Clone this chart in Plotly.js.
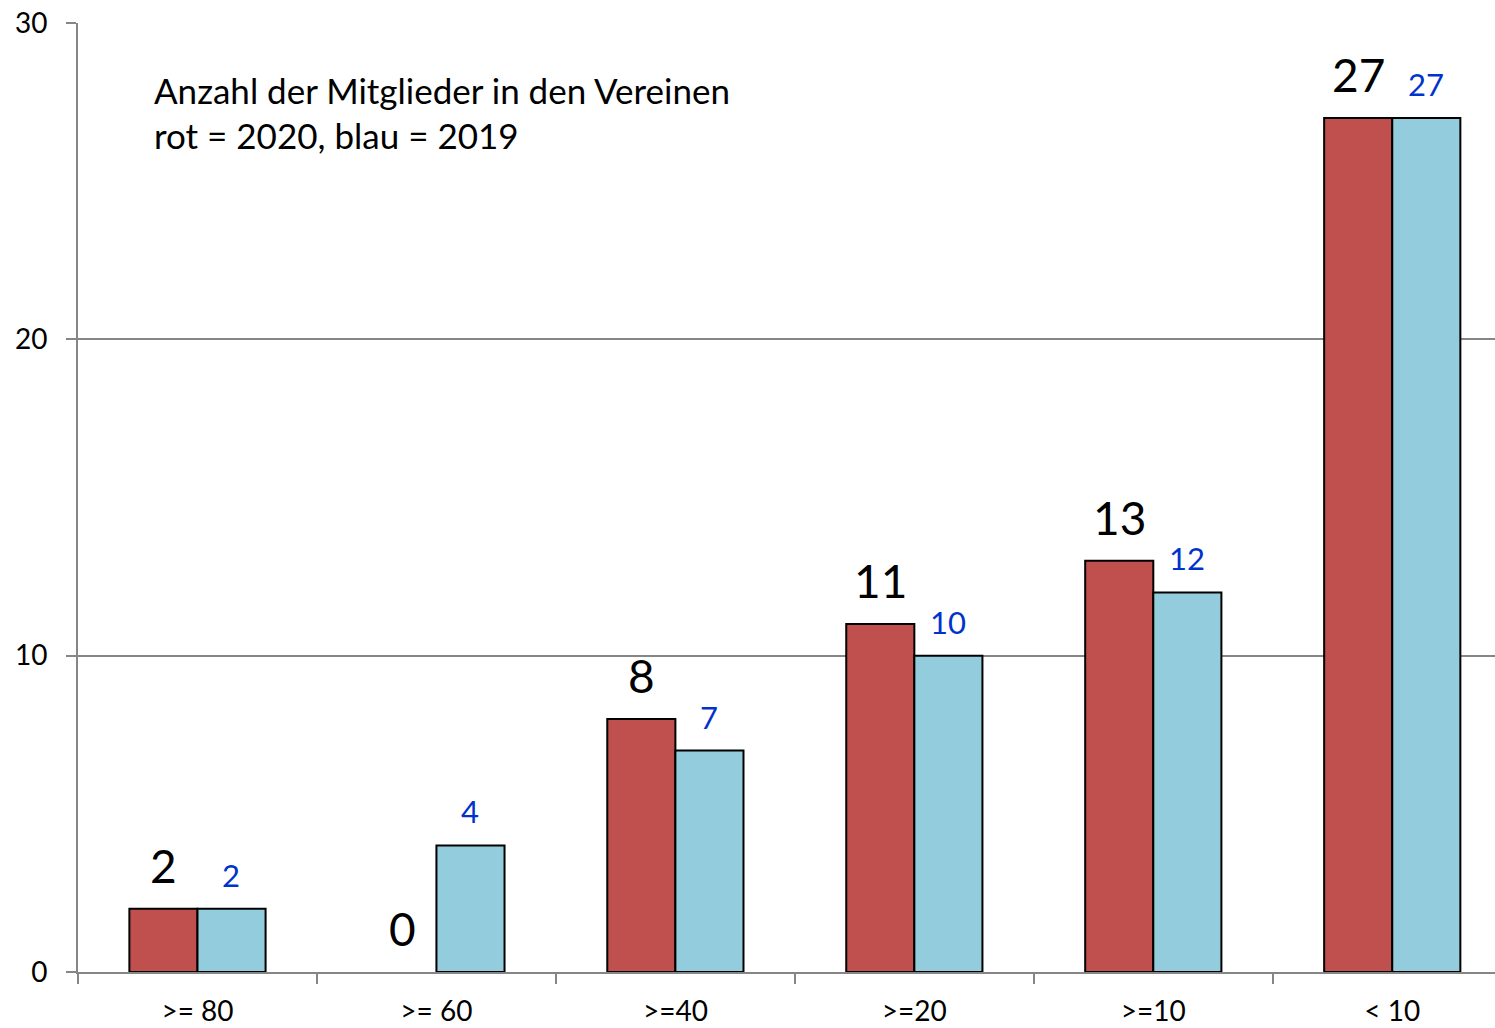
<!DOCTYPE html>
<html><head><meta charset="utf-8">
<script src="https://cdn.plot.ly/plotly-3.0.1.min.js"></script>
<style>html,body{margin:0;padding:0;background:#fff;}#chart{width:1495px;height:1028px;}</style>
</head><body><div id="chart"></div>
<script>
const categories = [">= 80", ">= 60", ">=40", ">=20", ">=10", "< 10"];
const values2020 = [2, 0, 8, 11, 13, 27];
const values2019 = [2, 4, 7, 10, 12, 27];
const yTicks = [0, 10, 20, 30];
const titleLines = ["Anzahl der Mitglieder in den Vereinen", "rot = 2020, blau = 2019"];

const FONT = "Lato, 'Open Sans', sans-serif";
const gray = "#868686";

const traces = [
  {type: "bar", name: "2020", x: categories, y: values2020,
   marker: {color: "#C0504D", line: {color: "#000", width: values2020.map(v => v === 0 ? 0 : 2)}}, hoverinfo: "none"},
  {type: "bar", name: "2019", x: categories, y: values2019,
   marker: {color: "#93CDDD", line: {color: "#000", width: values2019.map(v => v === 0 ? 0 : 2)}}, hoverinfo: "none"}
];

const annotations = [];
categories.forEach((c, i) => {
  annotations.push({x: c, y: values2020[i], xref: "x", yref: "y", text: String(values2020[i]),
    showarrow: false, xshift: -34, yshift: 14, yanchor: "bottom", xanchor: "center",
    font: {family: FONT, size: 46, color: "#000"}});
  annotations.push({x: c, y: values2019[i], xref: "x", yref: "y", text: String(values2019[i]),
    showarrow: false, xshift: 34, yshift: 13, yanchor: "bottom", xanchor: "center",
    font: {family: FONT, size: 31, color: "#0033CC"}});
});
annotations.push({xref: "paper", yref: "paper", x: 0.052, y: 0.929, xanchor: "left", yanchor: "middle",
  text: titleLines[0], showarrow: false, font: {family: FONT, size: 35, color: "#000"}});
annotations.push({xref: "paper", yref: "paper", x: 0.052, y: 0.882, xanchor: "left", yanchor: "middle",
  text: titleLines[1], showarrow: false, font: {family: FONT, size: 35, color: "#000"}});

const layout = {
  width: 1495, height: 1028,
  margin: {l: 78, r: 0, t: 23, b: 56},
  paper_bgcolor: "#fff", plot_bgcolor: "#fff",
  showlegend: false,
  barmode: "group", bargap: 0.43, bargroupgap: 0,
  font: {family: FONT, color: "#000"},
  xaxis: {
    type: "category", range: [-0.5, 5.43], fixedrange: true,
    showline: true, linecolor: gray, linewidth: 2,
    ticks: "outside", tickson: "boundaries", ticklen: 10, tickcolor: gray, tickwidth: 2,
    tickfont: {family: FONT, size: 28, color: "#000"},
    showgrid: false, zeroline: false, ticklabelstandoff: 13
  },
  yaxis: {
    range: [0, 30], tickvals: yTicks, ticktext: yTicks.map(String), fixedrange: true,
    showline: true, linecolor: gray, linewidth: 2,
    ticks: "outside", ticklen: 10, tickcolor: gray, tickwidth: 2,
    showgrid: true, gridcolor: gray, gridwidth: 2, zeroline: false,
    tickfont: {family: FONT, size: 28, color: "#000"}, ticklabelstandoff: 13
  },
  annotations: annotations
};

Plotly.newPlot("chart", traces, layout, {staticPlot: true, displayModeBar: false});
</script></body></html>
